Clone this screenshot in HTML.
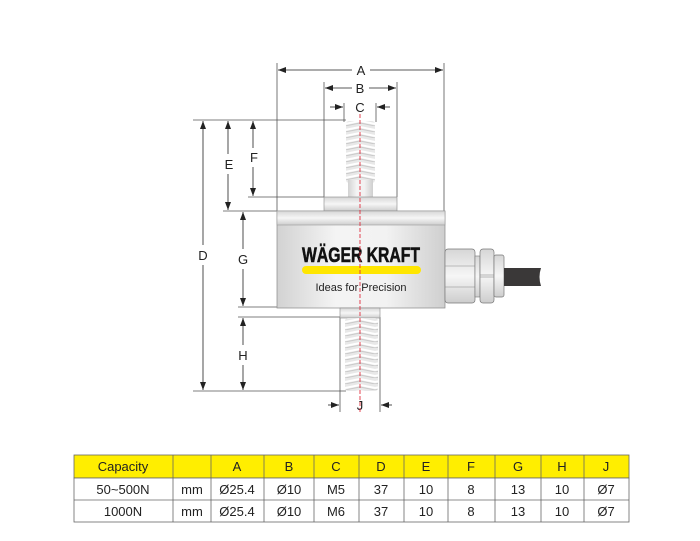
<!DOCTYPE html>
<html><head><meta charset="utf-8"><style>
html,body{margin:0;padding:0;background:#fff;width:700px;height:541px;overflow:hidden}
svg{display:block}
text{font-family:"Liberation Sans",sans-serif}
</style></head><body>
<svg width="700" height="541" viewBox="0 0 700 541" xmlns="http://www.w3.org/2000/svg">
<defs>
<linearGradient id="body" x1="0" x2="1" y1="0" y2="0">
<stop offset="0" stop-color="#d2d2d2"/><stop offset="0.35" stop-color="#f4f4f4"/><stop offset="0.65" stop-color="#f2f2f2"/><stop offset="1" stop-color="#cfcfcf"/></linearGradient>
<linearGradient id="vg" x1="0" x2="0" y1="0" y2="1">
<stop offset="0" stop-color="#d6d6d6"/><stop offset="0.5" stop-color="#f6f6f6"/><stop offset="1" stop-color="#cdcdcd"/></linearGradient>
<pattern id="thr" width="30" height="6" patternUnits="userSpaceOnUse">
<rect width="30" height="6" fill="#e8e8e8"/>
<path d="M0 1 L15 4 L30 1" stroke="#fff" stroke-width="2" fill="none"/>
<path d="M0 3 L15 6 L30 3" stroke="#cacaca" stroke-width="1" fill="none"/>
</pattern>
<marker id="ar" markerWidth="8" markerHeight="6" refX="8" refY="3" orient="auto" markerUnits="userSpaceOnUse"><path d="M0 0 L8 3 L0 6z" fill="#222"/></marker>
</defs>
<g stroke="#555" stroke-width="0.8" fill="none">
<line x1="277" y1="63" x2="277" y2="211"/><line x1="444" y1="63" x2="444" y2="211"/>
<line x1="324" y1="82" x2="324" y2="197"/><line x1="397" y1="82" x2="397" y2="197"/>
<line x1="344" y1="103" x2="344" y2="122"/><line x1="376" y1="103" x2="376" y2="122"/>
<line x1="193" y1="120" x2="346" y2="120"/>
<line x1="248" y1="197" x2="324" y2="197"/>
<line x1="223" y1="211" x2="277" y2="211"/>
<line x1="238" y1="307" x2="340" y2="307"/>
<line x1="238" y1="317" x2="340" y2="317"/>
<line x1="193" y1="391" x2="346" y2="391"/>
<line x1="340" y1="317" x2="340" y2="412"/><line x1="380" y1="317" x2="380" y2="412"/>
</g>
<g stroke="#222" stroke-width="0.8" fill="none">
<line x1="352" y1="70" x2="278" y2="70" marker-end="url(#ar)"/><line x1="370" y1="70" x2="443" y2="70" marker-end="url(#ar)"/>
<line x1="352" y1="88" x2="325" y2="88" marker-end="url(#ar)"/><line x1="369" y1="88" x2="396" y2="88" marker-end="url(#ar)"/>
<line x1="330" y1="107" x2="343" y2="107" marker-end="url(#ar)"/><line x1="390" y1="107" x2="377" y2="107" marker-end="url(#ar)"/>
<line x1="203" y1="245" x2="203" y2="121" marker-end="url(#ar)"/><line x1="203" y1="265" x2="203" y2="390" marker-end="url(#ar)"/>
<line x1="228" y1="154" x2="228" y2="121" marker-end="url(#ar)"/><line x1="228" y1="174" x2="228" y2="210" marker-end="url(#ar)"/>
<line x1="253" y1="148" x2="253" y2="121" marker-end="url(#ar)"/><line x1="253" y1="167" x2="253" y2="196" marker-end="url(#ar)"/>
<line x1="243" y1="249" x2="243" y2="212" marker-end="url(#ar)"/><line x1="243" y1="269" x2="243" y2="306" marker-end="url(#ar)"/>
<line x1="243" y1="345" x2="243" y2="318" marker-end="url(#ar)"/><line x1="243" y1="365" x2="243" y2="390" marker-end="url(#ar)"/>
<line x1="328" y1="405" x2="339" y2="405" marker-end="url(#ar)"/><line x1="392" y1="405" x2="381" y2="405" marker-end="url(#ar)"/>
</g>
<g font-size="13" fill="#222" text-anchor="middle">
<text x="361" y="75">A</text><text x="360" y="93">B</text><text x="360" y="112">C</text>
<text x="229" y="169">E</text><text x="254" y="162">F</text><text x="203" y="260">D</text>
<text x="243" y="264">G</text><text x="243" y="360">H</text><text x="360" y="410">J</text>
</g>
<rect x="346" y="121" width="29" height="62" rx="3" fill="url(#thr)"/>
<rect x="348" y="180" width="25" height="17" fill="url(#body)"/>
<rect x="324" y="197" width="73" height="14" fill="url(#vg)" stroke="#888" stroke-width="0.6"/>
<rect x="277" y="211" width="168" height="97" fill="url(#body)" stroke="#888" stroke-width="0.7"/>
<rect x="277" y="211" width="168" height="14" fill="url(#vg)" stroke="#999" stroke-width="0.6"/>
<rect x="445" y="249" width="30" height="54" rx="3" fill="url(#vg)" stroke="#777" stroke-width="0.7"/>
<line x1="445" y1="266" x2="475" y2="266" stroke="#888" stroke-width="0.6"/><line x1="445" y1="287" x2="475" y2="287" stroke="#888" stroke-width="0.6"/>
<rect x="475" y="256" width="5" height="41" fill="url(#vg)" stroke="#777" stroke-width="0.6"/>
<rect x="480" y="249" width="14" height="54" rx="3" fill="url(#vg)" stroke="#777" stroke-width="0.7"/>
<rect x="494" y="255" width="10" height="42" rx="2" fill="url(#vg)" stroke="#777" stroke-width="0.7"/>
<line x1="480" y1="275" x2="494" y2="275" stroke="#888" stroke-width="0.6"/><line x1="480" y1="277" x2="494" y2="277" stroke="#888" stroke-width="0.6"/>
<path d="M504 268 H541 Q538 277 541 286 H504z" fill="#3a3838"/>
<text x="361" y="262" text-anchor="middle" font-size="21" font-weight="bold" fill="#111" stroke="#111" stroke-width="0.6" textLength="118" lengthAdjust="spacingAndGlyphs">WÄGER KRAFT</text>
<rect x="302" y="266" width="119" height="8" rx="4" fill="#ffe600"/>
<text x="361" y="291" text-anchor="middle" font-size="11" fill="#222">Ideas for Precision</text>
<rect x="340" y="308" width="40" height="10" fill="url(#vg)" stroke="#888" stroke-width="0.6"/>
<rect x="345" y="318" width="33" height="73" rx="3" fill="url(#thr)"/>
<line x1="360" y1="114" x2="360" y2="412" stroke="#e03040" stroke-width="0.9" stroke-dasharray="4,2"/>
<g stroke="#666" stroke-width="0.8">
<rect x="74" y="455" width="555" height="23" fill="#ffee00"/>
<rect x="74" y="478" width="555" height="44" fill="#fff"/>
<line x1="74" y1="500" x2="629" y2="500"/>
<line x1="173" y1="455" x2="173" y2="522"/><line x1="211" y1="455" x2="211" y2="522"/><line x1="264" y1="455" x2="264" y2="522"/>
<line x1="314" y1="455" x2="314" y2="522"/><line x1="359" y1="455" x2="359" y2="522"/><line x1="404" y1="455" x2="404" y2="522"/>
<line x1="448" y1="455" x2="448" y2="522"/><line x1="495" y1="455" x2="495" y2="522"/><line x1="541" y1="455" x2="541" y2="522"/>
<line x1="584" y1="455" x2="584" y2="522"/>
</g>
<g font-size="13" fill="#222" text-anchor="middle">
<text x="123" y="471">Capacity</text><text x="237" y="471">A</text><text x="289" y="471">B</text><text x="336" y="471">C</text><text x="381" y="471">D</text><text x="426" y="471">E</text><text x="471" y="471">F</text><text x="518" y="471">G</text><text x="562" y="471">H</text><text x="606" y="471">J</text>
<text x="123" y="494">50~500N</text><text x="192" y="494">mm</text><text x="237" y="494">Ø25.4</text><text x="289" y="494">Ø10</text><text x="336" y="494">M5</text><text x="381" y="494">37</text><text x="426" y="494">10</text><text x="471" y="494">8</text><text x="518" y="494">13</text><text x="562" y="494">10</text><text x="606" y="494">Ø7</text>
<text x="123" y="516">1000N</text><text x="192" y="516">mm</text><text x="237" y="516">Ø25.4</text><text x="289" y="516">Ø10</text><text x="336" y="516">M6</text><text x="381" y="516">37</text><text x="426" y="516">10</text><text x="471" y="516">8</text><text x="518" y="516">13</text><text x="562" y="516">10</text><text x="606" y="516">Ø7</text>
</g>
</svg>
</body></html>
